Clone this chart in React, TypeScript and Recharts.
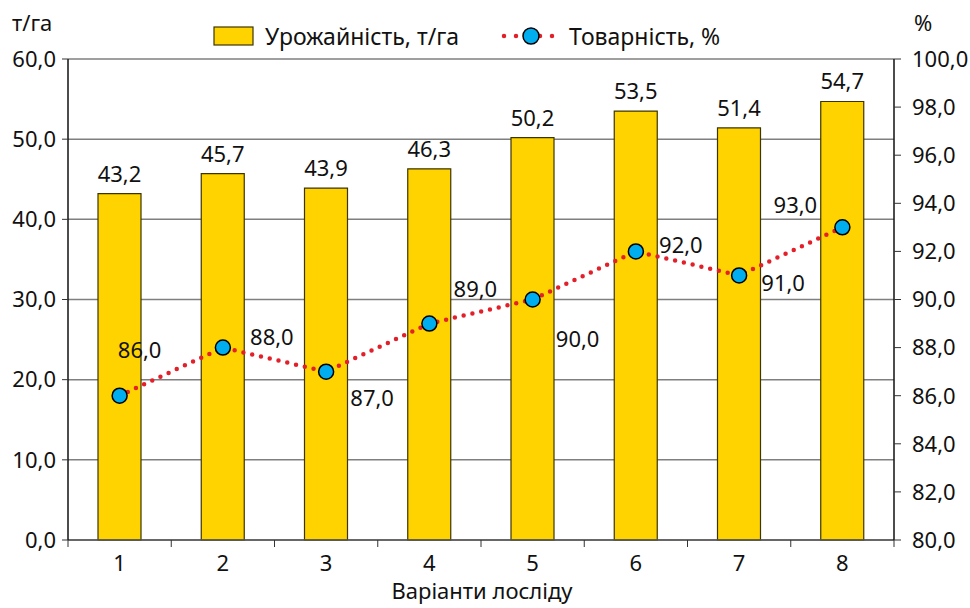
import React from "react";
import {
  ComposedChart,
  Bar,
  Line,
  XAxis,
  YAxis,
  CartesianGrid,
  LabelList,
} from "recharts";

const categories = ["1", "2", "3", "4", "5", "6", "7", "8"];
const yieldValues = [43.2, 45.7, 43.9, 46.3, 50.2, 53.5, 51.4, 54.7];
const marketability = [86.0, 88.0, 87.0, 89.0, 90.0, 92.0, 91.0, 93.0];
const leftTicks = [0, 10, 20, 30, 40, 50, 60];
const rightTicks = [80, 82, 84, 86, 88, 90, 92, 94, 96, 98, 100];

// label offsets for the line values (dx, dy from the point)
const lineLabelOffsets = [
  [20, -47],
  [49, -12],
  [46, 25],
  [46, -36],
  [45, 38],
  [45, -7],
  [44, 7],
  [-47, -23],
];

const data = categories.map((c, i) => ({
  name: c,
  yield: yieldValues[i],
  market: marketability[i],
}));

const W = 970;
const H = 608;
const LEFT = 68;
const RIGHT = 76;
const TOP = 59;
const BOTTOM = 68;
const BAND = (W - LEFT - RIGHT) / categories.length;

const FONT = "'Noto Sans', sans-serif";
const FS = 22;
const TEXT = "#111";
const fmt = (v: number) => v.toFixed(1).replace(".", ",");

function XTick(props: any) {
  const { x, y, payload, index } = props;
  const half = BAND / 2;
  return (
    <g>
      <line x1={x - half} x2={x - half} y1={y} y2={y + 7} stroke="#333" />
      {index === categories.length - 1 && (
        <line x1={x + half} x2={x + half} y1={y} y2={y + 7} stroke="#333" />
      )}
      <text
        x={x}
        y={y + 31}
        textAnchor="middle"
        fontSize={FS}
        fontFamily={FONT}
        fill={TEXT}
      >
        {payload.value}
      </text>
    </g>
  );
}

function LineLabel(props: any) {
  const { x, y, value, index } = props;
  const [dx, dy] = lineLabelOffsets[index];
  return (
    <text
      x={x + dx}
      y={y + dy}
      textAnchor="middle"
      dominantBaseline="central"
      fontSize={FS}
      fontFamily={FONT}
      fill={TEXT}
    >
      {fmt(value)}
    </text>
  );
}

export default function App() {
  return (
    <div
      style={{
        position: "absolute",
        left: 0,
        top: 0,
        width: W,
        height: H,
        background: "#fff",
        fontFamily: FONT,
        color: TEXT,
      }}
    >
      <ComposedChart
        width={W}
        height={H}
        data={data}
        margin={{ top: TOP, right: 0, bottom: 0, left: 0 }}
      >
        <CartesianGrid
          yAxisId="left"
          vertical={false}
          stroke="#7f7f7f"
          strokeWidth={1.5}
        />
        <XAxis
          dataKey="name"
          height={BOTTOM}
          tick={<XTick />}
          tickLine={false}
          tickSize={0}
          tickMargin={0}
          axisLine={{ stroke: "#555", strokeWidth: 1.5 }}
          interval={0}
        />
        <YAxis
          yAxisId="left"
          width={LEFT}
          domain={[0, 60]}
          ticks={leftTicks}
          tickFormatter={fmt}
          tickSize={6}
          tickMargin={6}
          tickLine={{ stroke: "#333" }}
          axisLine={{ stroke: "#111", strokeWidth: 1.5 }}
          tick={{ fontSize: FS, fontFamily: FONT, fill: TEXT }}
        />
        <YAxis
          yAxisId="right"
          orientation="right"
          width={RIGHT}
          domain={[80, 100]}
          ticks={rightTicks}
          tickFormatter={fmt}
          tickSize={7}
          tickMargin={11}
          tickLine={{ stroke: "#333" }}
          axisLine={{ stroke: "#111", strokeWidth: 1.5 }}
          tick={{ fontSize: FS, fontFamily: FONT, fill: TEXT, textAnchor: "start" }}
        />
        <Bar
          yAxisId="left"
          dataKey="yield"
          barSize={43}
          fill="#FFD300"
          stroke="#3d3500"
          strokeWidth={1.2}
          isAnimationActive={false}
        >
          <LabelList
            dataKey="yield"
            position="top"
            offset={12}
            formatter={(v: any) => fmt(Number(v))}
            style={{ fontSize: FS, fontFamily: FONT, fill: TEXT }}
          />
        </Bar>
        <Line
          yAxisId="right"
          dataKey="market"
          type="linear"
          stroke="#E3202A"
          strokeWidth={4.5}
          strokeDasharray="0 9"
          strokeLinecap="round"
          dot={{
            r: 7.5,
            fill: "#00AEEF",
            stroke: "#000",
            strokeWidth: 1.5,
            strokeDasharray: "none",
          }}
          isAnimationActive={false}
        >
          <LabelList dataKey="market" content={<LineLabel />} />
        </Line>
      </ComposedChart>

      {/* axis titles */}
      <div style={{ position: "absolute", left: 12, top: 7, fontSize: FS }}>т/га</div>
      <div style={{ position: "absolute", left: 914, top: 7, fontSize: FS }}>%</div>
      <div
        style={{
          position: "absolute",
          left: 0,
          width: W - 6,
          top: 575,
          textAlign: "center",
          fontSize: FS,
        }}
      >
        Варіанти лосліду
      </div>

      {/* legend */}
      <div
        style={{
          position: "absolute",
          left: 213,
          top: 21,
          display: "flex",
          alignItems: "center",
          fontSize: 23,
          lineHeight: "30px",
        }}
      >
        <svg width={42} height={22} style={{ marginRight: 10 }}>
          <rect x={1} y={2} width={39} height={18} fill="#FFD300" stroke="#3d3500" strokeWidth={1.2} />
        </svg>
        <span>Урожайність, т/га</span>
        <svg width={60} height={22} style={{ marginLeft: 42, marginRight: 8 }}>
          <line
            x1={3}
            x2={57}
            y1={11}
            y2={11}
            stroke="#E3202A"
            strokeWidth={4.5}
            strokeDasharray="0 12"
            strokeLinecap="round"
          />
          <circle cx={30} cy={11} r={8} fill="#00AEEF" stroke="#000" strokeWidth={1.5} />
        </svg>
        <span>Товарність, %</span>
      </div>
    </div>
  );
}
